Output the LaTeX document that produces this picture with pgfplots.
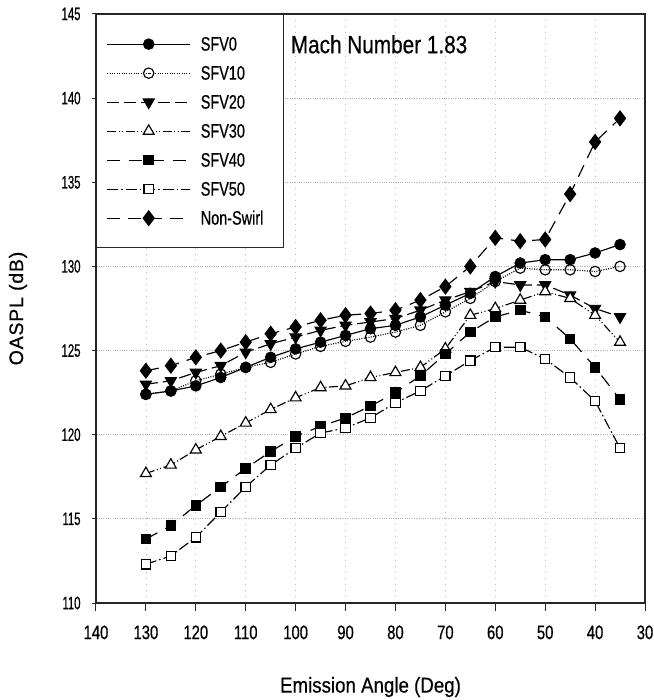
\documentclass[border=0pt]{standalone}
\usepackage{fontspec}
\setmainfont{Liberation Sans}
\newfontfamily\ytfont[FakeStretch=0.63,FakeBold=0.6]{Liberation Sans}
\newfontfamily\xtfont[FakeStretch=0.76,FakeBold=0.6]{Liberation Sans}
\newfontfamily\legfont[FakeStretch=0.74,FakeBold=0.6]{Liberation Sans}
\newfontfamily\titfont[FakeStretch=0.83,FakeBold=0.5]{Liberation Sans}
\newfontfamily\xlfont[FakeStretch=0.87,FakeBold=0.5]{Liberation Sans}
\newfontfamily\ylfont[LetterSpace=4,FakeBold=0.6]{Liberation Sans}
\usepackage{pgfplots}
\usepackage{pgfplotstable}
\pgfplotsset{compat=1.18}

\pgfplotstableread{
x   s0    s10   s20   s30   s40   s50   ns
130 122.4 122.4 123.0 117.7 113.8 112.3 123.8
125 122.6 122.6 123.2 118.2 114.6 112.8 124.1
120 122.9 123.2 123.7 119.1 115.8 113.9 124.6
115 123.4 123.6 124.1 119.9 116.9 115.4 125.0
110 124.0 124.0 124.9 120.7 118.0 116.9 125.5
105 124.6 124.3 125.4 121.5 119.0 118.2 126.0
100 125.1 124.8 125.8 122.2 119.9 119.2 126.4
95  125.5 125.25 126.2 122.8 120.5 120.1 126.8
90  125.9 125.55 126.5 122.9 121.0 120.4 127.1
85  126.3 125.8 126.7 123.4 121.7 121.0 127.2
80  126.5 126.1 126.9 123.7 122.5 121.9 127.4
75  127.0 126.5 127.4 124.0 123.5 122.6 128.0
70  127.7 127.3 128.0 125.1 124.8 123.5 128.8
65  128.4 128.1 128.5 127.1 126.1 124.4 130.0
60  129.4 129.1 129.1 127.5 127.0 125.2 131.7
55  130.2 129.9 128.9 128.0 127.4 125.2 131.5
50  130.4 129.8 128.9 128.5 127.0 124.5 131.6
45  130.4 129.8 128.3 128.1 125.7 123.4 134.3
40  130.8 129.7 127.5 127.1 124.0 122.0 137.4
35  131.3 130.0 127.0 125.5 122.1 119.2 138.8
}\data

\begin{document}
\begin{tikzpicture}
\path[use as bounding box] (-96pt,-97pt) rectangle (557pt,603pt);
\begin{axis}[
  at={(0pt,0pt)}, anchor=south west,
  scale only axis, width=549pt, height=589pt,
  x dir=reverse,
  xmin=30, xmax=140, ymin=110, ymax=145,
  xtick={30,40,...,140}, ytick={110,115,...,145},
  axis line style={line width=1.3pt, black!85},
  tick align=outside, xtick pos=bottom, ytick pos=left,
  xtick style={line width=1pt, black!85, /pgfplots/major tick length=8pt},
  ytick style={line width=1pt, black!85, /pgfplots/major tick length=4pt},
  /pgf/number format/assume math mode=true,
  xticklabel style={font=\xtfont\fontsize{19.5}{20}\selectfont, inner sep=0pt, anchor=north, yshift=-18pt},
  yticklabel style={font=\ytfont\fontsize{18}{18}\selectfont, inner sep=0pt, anchor=east, xshift=-11pt},
  xmajorgrids, ymajorgrids,
  x grid style={gray!55, line width=0.8pt, dash pattern=on 1pt off 5pt},
  y grid style={gray!60, line width=0.9pt, dash pattern=on 1pt off 1.3pt},
  xlabel={Emission Angle (Deg)},
  ylabel={OASPL (dB)},
  xlabel style={font=\xlfont\fontsize{21.5}{22}\selectfont, at={(axis description cs:0.5,0)}, anchor=center, yshift=-84pt},
  ylabel style={font=\ylfont\fontsize{19.5}{20}\selectfont, at={(axis description cs:0,0.5)}, anchor=center, xshift=0pt, yshift=78pt},
  legend image code/.code={\draw[mark repeat=2,mark phase=2,#1] plot coordinates {(0pt,0pt) (41.5pt,0pt) (83pt,0pt)};},
  legend style={at={(0,1)}, anchor=north west, draw=black!85, line width=1.3pt, fill=white,
    inner xsep=10pt, inner ysep=15pt, row sep=0pt,
    font=\legfont\fontsize{19.5}{20}\selectfont,
    nodes={inner ysep=8pt, inner xsep=10pt, text height=13pt, text depth=0pt, anchor=west}},
  legend cell align=left,
  every axis plot/.append style={line width=1.15pt, black},
]
\addplot[solid, mark=*, mark size=5.2pt, mark options={solid, fill=black}] table[x=x,y=s0]{\data};
\addlegendentry{SFV0}
\addplot[dash pattern=on 1pt off 1.4pt, mark=o, mark size=5.2pt, mark options={solid, fill=white}] table[x=x,y=s10]{\data};
\addlegendentry{SFV10}
\addplot[dash pattern=on 12pt off 5pt, mark=triangle*, mark size=6.3pt, mark options={solid, fill=black, rotate=180}] table[x=x,y=s20]{\data};
\addlegendentry{SFV20}
\addplot[dash pattern=on 9pt off 2.5pt on 1pt off 2.5pt on 1pt off 2.5pt, mark=triangle*, mark size=6.3pt, mark options={solid, fill=white}] table[x=x,y=s30]{\data};
\addlegendentry{SFV30}
\addplot[dash pattern=on 13pt off 9pt, mark=square*, mark size=4.7pt, mark options={solid, fill=black}] table[x=x,y=s40]{\data};
\addlegendentry{SFV40}
\addplot[dash pattern=on 11pt off 3pt on 1.5pt off 3pt, mark=square*, mark size=4.7pt, mark options={solid, fill=white}] table[x=x,y=s50]{\data};
\addlegendentry{SFV50}
\addplot[dash pattern=on 13pt off 8pt, mark=diamond*, mark size=7.3pt, mark options={solid, fill=black}] table[x=x,y=ns]{\data};
\addlegendentry{Non-Swirl}
\node[font=\titfont\fontsize{25}{26}\selectfont, anchor=west, inner sep=0pt] at (axis cs:101,143.2) {Mach Number 1.83};
\end{axis}
\end{tikzpicture}
\end{document}
